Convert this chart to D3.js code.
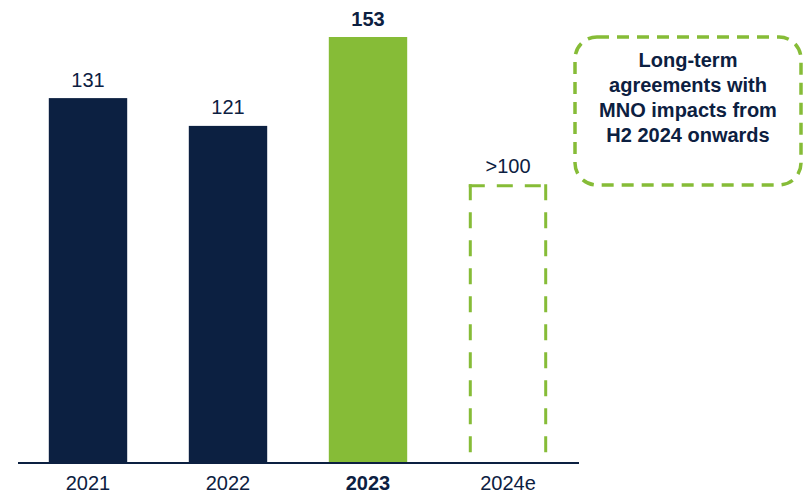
<!DOCTYPE html>
<html>
<head>
<meta charset="utf-8">
<script src="https://cdn.jsdelivr.net/npm/d3@7"></script>
<style>
  body { margin: 0; background: #fff; }
  svg { display: block; font-family: "Liberation Sans", Arial, sans-serif; }
</style>
</head>
<body>
<div id="chart"></div>
<script>
  // chart data
  var years = ["2021", "2022", "2023", "2024e"];
  var values = [131, 121, 153, 100];
  var valueLabels = ["131", "121", "153", ">100"];
  var calloutLines = ["Long-term", "agreements with", "MNO impacts from", "H2 2024 onwards"];

  var navy = "#0c2041", green = "#86bc37";

  var width = 809, height = 495;
  var svg = d3.select("#chart").append("svg")
      .attr("width", width)
      .attr("height", height);

  var x = d3.scaleBand()
      .domain(years)
      .range([18, 578])
      .paddingInner(0.44)
      .paddingOuter(0.22);

  var y = d3.scaleLinear()
      .domain([0, 153])
      .range([462, 37]);

  // solid bars (actuals)
  svg.selectAll("rect.bar")
    .data(years.slice(0, 3))
    .enter()
      .append("rect")
      .attr("class", "bar")
      .attr("x", function(d){ return x(d); })
      .attr("y", function(d, i){ return y(values[i]); })
      .attr("width", x.bandwidth())
      .attr("height", function(d, i){ return y(0) - y(values[i]); })
      .attr("fill", function(d){ return d === "2023" ? green : navy; });

  // estimate bar: dashed outline, each side dashed from its top corner
  var ex0 = x("2024e") + 1.5,
      ex1 = x("2024e") + x.bandwidth() - 1.5,
      ey0 = y(values[3]) + 1.5,
      ey1 = y(0);
  var sides = [
    [[ex0 - 1.5, ey0], [ex1, ey0]],
    [[ex0, ey0 - 1.5], [ex0, ey1]],
    [[ex1, ey0 - 1.5], [ex1, ey1]]
  ];
  svg.selectAll("line.est")
    .data(sides)
    .enter()
      .append("line")
      .attr("class", "est")
      .attr("x1", function(d){ return d[0][0]; })
      .attr("y1", function(d){ return d[0][1]; })
      .attr("x2", function(d){ return d[1][0]; })
      .attr("y2", function(d){ return d[1][1]; })
      .attr("stroke", green)
      .attr("stroke-width", 3)
      .attr("stroke-dasharray", "16,12");

  // baseline
  svg.append("line")
      .attr("x1", 18).attr("x2", 579)
      .attr("y1", y(0) + 1).attr("y2", y(0) + 1)
      .attr("stroke", navy)
      .attr("stroke-width", 2);

  // value labels
  svg.selectAll("text.val")
    .data(years)
    .enter()
      .append("text")
      .attr("class", "val")
      .attr("x", function(d){ return x(d) + x.bandwidth() / 2; })
      .attr("y", function(d, i){ return y(values[i]) - 11.5; })
      .attr("text-anchor", "middle")
      .attr("fill", navy)
      .attr("font-size", 20)
      .attr("font-weight", function(d){ return d === "2023" ? "bold" : "normal"; })
      .text(function(d, i){ return valueLabels[i]; });

  // category labels
  svg.selectAll("text.cat")
    .data(years)
    .enter()
      .append("text")
      .attr("class", "cat")
      .attr("x", function(d){ return x(d) + x.bandwidth() / 2; })
      .attr("y", 490)
      .attr("text-anchor", "middle")
      .attr("fill", navy)
      .attr("font-size", 20)
      .attr("font-weight", function(d){ return d === "2023" ? "bold" : "normal"; })
      .text(function(d){ return d; });

  // callout box
  svg.append("rect")
      .attr("x", 575).attr("y", 37)
      .attr("width", 226).attr("height", 148)
      .attr("rx", 22).attr("ry", 22)
      .attr("fill", "none")
      .attr("stroke", green)
      .attr("stroke-width", 3.5)
      .attr("stroke-dasharray", "12,8");

  svg.append("text")
      .attr("text-anchor", "middle")
      .attr("fill", navy)
      .attr("font-size", 20)
      .attr("font-weight", "bold")
    .selectAll("tspan")
    .data(calloutLines)
    .enter()
      .append("tspan")
      .attr("x", 688)
      .attr("y", function(d, i){ return 67 + i * 25; })
      .text(function(d){ return d; });
</script>
</body>
</html>
